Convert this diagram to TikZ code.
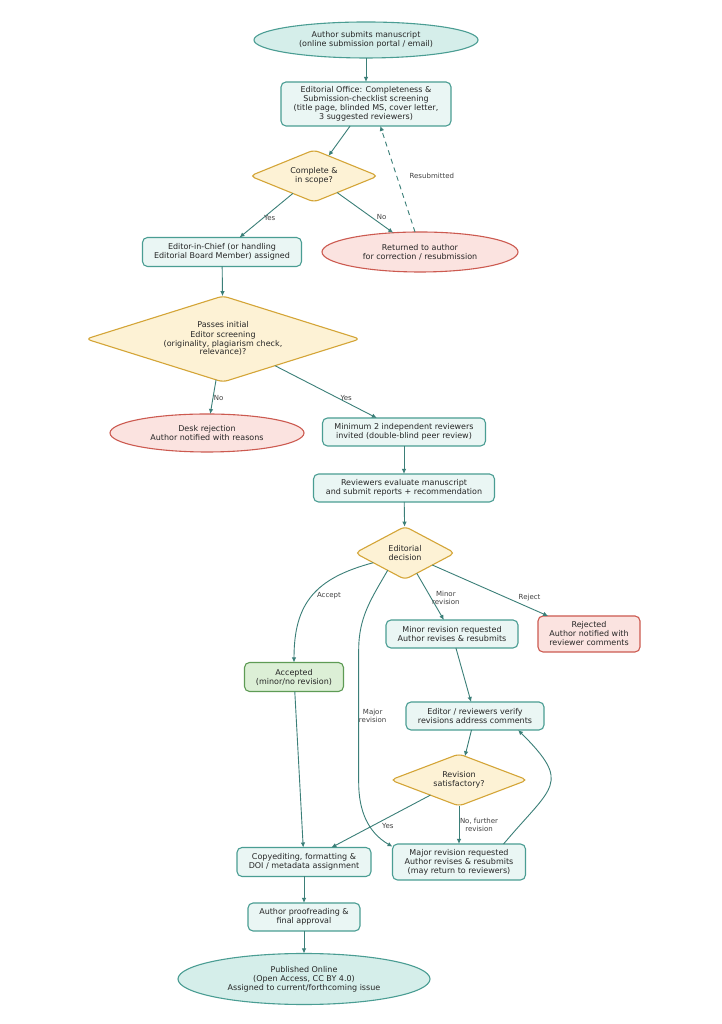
\documentclass[tikz,border=0pt]{standalone}
\usepackage{fontspec}
\setmainfont{DejaVu Sans}
\usetikzlibrary{shapes.geometric,arrows.meta}
\definecolor{edgeteal}{HTML}{3B7F78}
\definecolor{boxline}{HTML}{4A9D93}
\definecolor{boxfill}{HTML}{EAF6F4}
\definecolor{termfill}{HTML}{D5EEEA}
\definecolor{askline}{HTML}{D4A537}
\definecolor{askfill}{HTML}{FDF2D5}
\definecolor{rejline}{HTML}{CC5A50}
\definecolor{rejfill}{HTML}{FBE3E0}
\definecolor{okline}{HTML}{5E9B55}
\definecolor{okfill}{HTML}{DCEFD6}

\begin{document}
\begin{tikzpicture}[x=1pt, y=1pt,
    every node/.style={font=\fontsize{8}{9}\selectfont, text=black!85, align=center, outer sep=0pt},
    procbox/.style={draw=boxline, fill=boxfill, rounded corners=5pt, line width=1.1pt, inner sep=2pt},
    rejbox/.style={procbox, draw=rejline, fill=rejfill},
    okbox/.style={procbox, draw=okline, fill=okfill},
    termnode/.style={ellipse, draw=boxline, fill=termfill, line width=1.1pt, inner sep=0pt},
    rejnode/.style={ellipse, draw=rejline, fill=rejfill, line width=1.1pt, inner sep=0pt},
    ask/.style={diamond, draw=askline, fill=askfill, rounded corners=5pt, line width=1.1pt, inner sep=0pt},
    flow/.style={draw=edgeteal, line width=0.9pt, -{Latex[length=5pt,width=4.5pt]}},
    lab/.style={font=\fontsize{7}{8}\selectfont, text=black!75, inner sep=1pt}]
    \useasboundingbox[fill=white] (0,0) rectangle (721,1024);

    \node[termnode, minimum width=224pt, minimum height=36pt] (submit) at (366,984) {Author submits manuscript\\(online submission portal / email)};
    \node[procbox, minimum width=170pt, minimum height=44pt] (office) at (366,920) {Editorial Office: Completeness \&\\Submission-checklist screening\\(title page, blinded MS, cover letter,\\3 suggested reviewers)};
    \node[ask, aspect=2.5, minimum width=128pt, minimum height=52pt] (complete) at (314,848) {Complete \&\\in scope?};
    \node[rejnode, minimum width=196pt, minimum height=40pt] (returned) at (420,772) {Returned to author\\for correction / resubmission};
    \node[procbox, minimum width=159pt, minimum height=29pt] (eic) at (222,772) {Editor-in-Chief (or handling\\Editorial Board Member) assigned};
    \node[ask, aspect=3.2, minimum width=274pt, minimum height=86pt] (passes) at (223,685) {Passes initial\\Editor screening\\(originality, plagiarism check,\\relevance)?};
    \node[rejnode, minimum width=194pt, minimum height=38pt] (desk) at (207,591) {Desk rejection\\Author notified with reasons};
    \node[procbox, minimum width=163pt, minimum height=28pt] (invite) at (404,592) {Minimum 2 independent reviewers\\invited (double-blind peer review)};
    \node[procbox, minimum width=181pt, minimum height=28pt] (evaluate) at (404,536) {Reviewers evaluate manuscript\\and submit reports + recommendation};
    \node[ask, aspect=1.9, minimum width=100pt, minimum height=53pt] (decide) at (405,471) {Editorial\\decision};
    \node[procbox, minimum width=132pt, minimum height=28pt] (minor) at (452,390) {Minor revision requested\\Author revises \& resubmits};
    \node[rejbox, minimum width=102pt, minimum height=36pt] (rejected) at (589,390) {Rejected\\Author notified with\\reviewer comments};
    \node[okbox, minimum width=99pt, minimum height=29pt] (accepted) at (294,347) {Accepted\\(minor/no revision)};
    \node[procbox, minimum width=138pt, minimum height=28pt] (verify) at (475,308) {Editor / reviewers verify\\revisions address comments};
    \node[ask, aspect=2.6, minimum width=137pt, minimum height=52pt] (satis) at (459,244) {Revision\\satisfactory?};
    \node[procbox, minimum width=134pt, minimum height=29pt] (copyed) at (304,162) {Copyediting, formatting \&\\DOI / metadata assignment};
    \node[procbox, minimum width=133pt, minimum height=36pt] (major) at (459,162) {Major revision requested\\Author revises \& resubmits\\(may return to reviewers)};
    \node[procbox, minimum width=112pt, minimum height=28pt] (proof) at (304,107) {Author proofreading \&\\final approval};
    \node[termnode, minimum width=252pt, minimum height=51pt] (publ) at (304,45) {Published Online\\(Open Access, CC BY 4.0)\\Assigned to current/forthcoming issue};

    \draw[flow] (submit) -- (office);
    \draw[flow] (office) -- (complete);
    \draw[flow] (complete) -- node[lab, anchor=west, pos=.56] {Yes} (eic);
    \draw[flow] (complete) -- node[lab, anchor=west, pos=.62, xshift=4pt] {No} (returned);
    \draw[flow, dash pattern=on 5pt off 4pt] (returned.104) -- node[lab, anchor=west, pos=.53, xshift=12pt] {Resubmitted} (office.-57);
    \draw[flow] (eic) -- (passes);
    \draw[flow] (passes) -- node[lab, anchor=west, pos=.53] {No} (desk);
    \draw[flow] (passes) -- node[lab, pos=.7, yshift=4pt] {Yes} (invite);
    \draw[flow] (invite) -- (evaluate);
    \draw[flow] (evaluate) -- (decide);
    \draw[flow] (decide.197) to[out=195, in=90, looseness=1.2] node[lab, anchor=west, pos=.5, xshift=4pt] {Accept} (accepted);
    \draw[flow] (decide.225) to[out=240, in=90] ++(-29,-80) -- node[lab, xshift=14pt] {Major\\revision} ++(0,-132) to[out=-90, in=150] (major.167);
    \draw[flow] (decide) -- node[lab, anchor=west, pos=.53] {Minor\\revision} (minor);
    \draw[flow] (decide) -- node[lab, pos=.84, yshift=10pt] {Reject} (rejected);
    \draw[flow] (minor) -- (verify);
    \draw[flow] (verify) -- (satis);
    \draw[flow] (satis) -- node[lab, pos=.43, yshift=-8pt] {Yes} (copyed);
    \draw[flow] (satis) -- node[lab, anchor=west, pos=.5] {No, further\\revision} (major);
    \draw[flow] (major.22) to[out=50, in=-45, looseness=1.7] (verify.-18);
    \draw[flow] (accepted) -- (copyed);
    \draw[flow] (copyed) -- (proof);
    \draw[flow] (proof) -- (publ);
\end{tikzpicture}
\end{document}
